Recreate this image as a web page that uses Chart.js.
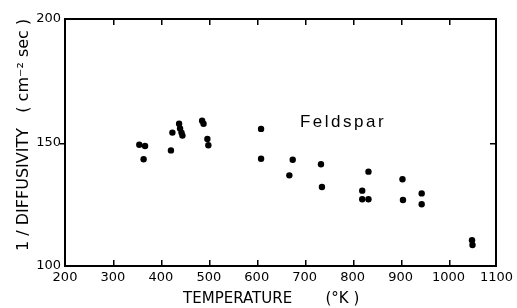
<!DOCTYPE html>
<html>
<head>
<meta charset="utf-8">
<script src="https://cdn.jsdelivr.net/npm/chart.js@4.4.0/dist/chart.umd.min.js"></script>
<style>
  html, body { margin: 0; padding: 0; background: #fff; }
  #wrap { width: 517px; height: 308px; }
</style>
</head>
<body>
<div id="wrap"><canvas id="myChart"></canvas></div>
<script>
// temperature (K) and 1/diffusivity
const temps = [355, 367, 364, 421, 424, 438, 440, 443, 445, 486, 489, 497, 499,
               609, 609, 668, 675, 734, 736, 820, 820, 833, 833, 904, 905, 944, 944, 1049, 1050];
const invDiff = [149.1, 148.6, 143.2, 146.8, 154.0, 157.6, 155.7, 154.0, 152.8, 158.8, 157.6, 151.4, 148.9,
                 155.5, 143.4, 136.7, 143.0, 141.2, 132.0, 130.5, 127.0, 127.0, 138.2, 135.1, 126.7, 129.4, 125.0, 110.4, 108.5];
const xTicks = [200, 300, 400, 500, 600, 700, 800, 900, 1000, 1100];
const yTicks = [100, 150, 200];

const font = "'DejaVu Sans', sans-serif";

// frame + inward ticks (filled rects), placed through the scales
const framePlugin = {
    id: 'boxFrame',
    afterDraw(chart) {
        const ctx = chart.ctx;
        const a = chart.chartArea;
        const xs = chart.scales.x;
        const ys = chart.scales.y;
        const L = Math.round(a.left), R = Math.round(a.right);
        const T = Math.round(a.top), B = Math.round(a.bottom);
        ctx.save();
        ctx.fillStyle = '#000';
        ctx.fillRect(L - 1, T - 1, R - L + 2, 2);
        ctx.fillRect(L - 1, B - 1, R - L + 2, 2);
        ctx.fillRect(L - 1, T - 1, 2, B - T + 2);
        ctx.fillRect(R - 1, T - 1, 2, B - T + 2);
        xTicks.forEach(v => {
            if (v === 200 || v === 1100) return;
            const px = Math.round(xs.getPixelForValue(v));
            ctx.fillRect(px, B - 6, 1.5, 5);
            ctx.fillRect(px, T + 1, 1.5, 5);
        });
        const py = Math.round(ys.getPixelForValue(150));
        ctx.fillRect(L - 5, py, 4, 1.5);
        ctx.fillRect(R - 6, py, 5, 1.5);
        // label
        ctx.font = "17px 'Liberation Sans', sans-serif";
        ctx.textBaseline = 'middle';
        ctx.textAlign = 'left';
        const label = 'Feldspar';
        let lx = xs.getPixelForValue(690);
        const ly = ys.getPixelForValue(158.3);
        for (const ch of label) {
            ctx.fillText(ch, lx, ly);
            lx += ctx.measureText(ch).width + 2.5;
        }
        ctx.restore();
    }
};

const makeChart = () => {
    const chart1 = document.getElementById('myChart');
    new Chart(chart1, {
        type: 'scatter',
        data: {
            datasets: [{
                data: temps.map((t, i) => ({ x: t, y: invDiff[i] })),
                backgroundColor: '#000',
                borderColor: '#000',
                pointRadius: 3.2,
                borderWidth: 0
            }]
        },
        options: {
            responsive: true,
            maintainAspectRatio: false,
            animation: false,
            layout: { padding: { top: 19, right: 19, left: 0, bottom: 0 } },
            plugins: { legend: { display: false }, tooltip: { enabled: false } },
            scales: {
                x: {
                    type: 'linear',
                    min: 200,
                    max: 1100,
                    afterBuildTicks: s => { s.ticks = xTicks.map(v => ({ value: v })); },
                    afterFit: s => { s.height = 42; },
                    grid: { display: false, drawTicks: false },
                    border: { display: false },
                    ticks: {
                        color: '#000',
                        padding: 4,
                        maxRotation: 0,
                        callback: v => String(v),
                        font: { family: font, size: 13 }
                    },
                    title: {
                        display: true,
                        text: 'TEMPERATURE       (\u00B0K )    ',
                        color: '#000',
                        padding: { top: 0, bottom: 0 },
                        font: { family: font, size: 15 }
                    }
                },
                y: {
                    type: 'linear',
                    min: 100,
                    max: 200,
                    afterBuildTicks: s => { s.ticks = yTicks.map(v => ({ value: v })); },
                    afterFit: s => { s.width = 65; },
                    grid: { display: false, drawTicks: false },
                    border: { display: false },
                    ticks: {
                        color: '#000',
                        padding: 4,
                        callback: v => String(v),
                        font: { family: font, size: 13 }
                    },
                    title: {
                        display: true,
                        text: '   1 / DIFFUSIVITY   ( cm\u207B\u00B2 sec )',
                        color: '#000',
                        padding: { top: 14, bottom: 0 },
                        font: { family: font, size: 16 }
                    }
                }
            }
        },
        plugins: [framePlugin]
    });
};

makeChart();
</script>
</body>
</html>
